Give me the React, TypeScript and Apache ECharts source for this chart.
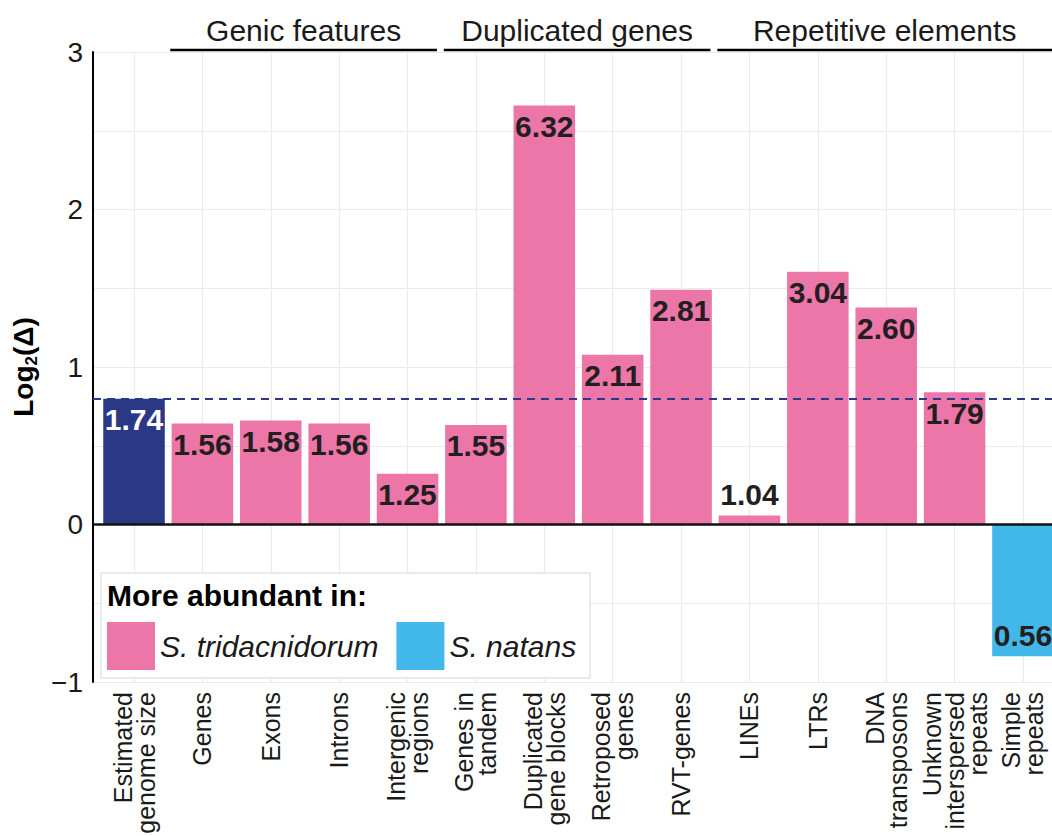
import React, { useEffect, useRef } from "react";
import * as echarts from "echarts";

// Feature categories along the x axis (line breaks as drawn)
const categories = [
  "Estimated\ngenome size",
  "Genes",
  "Exons",
  "Introns",
  "Intergenic\nregions",
  "Genes in\ntandem",
  "Duplicated\ngene blocks",
  "Retroposed\ngenes",
  "RVT-genes",
  "LINEs",
  "LTRs",
  "DNA\ntransposons",
  "Unknown\ninterspersed\nrepeats",
  "Simple\nrepeats",
];

// Fold difference (Δ) between the two genomes, one per category
const ratios = [1.74, 1.56, 1.58, 1.56, 1.25, 1.55, 6.32, 2.11, 2.81, 1.04, 3.04, 2.6, 1.79, 0.56];

// Which species each feature is more abundant in ("genome" is the reference bar)
const abundantIn = [
  "genome",
  "S. tridacnidorum",
  "S. tridacnidorum",
  "S. tridacnidorum",
  "S. tridacnidorum",
  "S. tridacnidorum",
  "S. tridacnidorum",
  "S. tridacnidorum",
  "S. tridacnidorum",
  "S. tridacnidorum",
  "S. tridacnidorum",
  "S. tridacnidorum",
  "S. tridacnidorum",
  "S. natans",
];

// Bracketed headers over the category groups (first/last category index)
const groupNames = ["Genic features", "Duplicated genes", "Repetitive elements"];
const groupFirst = [1, 5, 9];
const groupLast = [4, 8, 13];

// y axis range and tick step
const yTicks = [-1, 0, 1, 2, 3];
const yStep = 1;

const NAVY = "#2a3886";
const PINK = "#ed76a8";
const BLUE = "#41b8e9";
const TEXT = "#1a1a1a";
const GRIDLINE = "#ebebeb";
const FONT = "'Liberation Sans', Arial, Helvetica, sans-serif";

const log2 = (v: number) => Math.log(v) / Math.log(2);
const positions = categories.map((_, i) => i + 1);

function seriesData(name: string) {
  const out: any[] = [];
  categories.forEach((_, i) => {
    if (abundantIn[i] !== name) return;
    const y = log2(ratios[i]);
    let position = "insideTop";
    if (y < 0) position = "insideBottom";
    else if (y < 0.2) position = "top";
    out.push({
      value: [positions[i], y],
      ratio: ratios[i],
      label: {
        position,
        color: name === "genome" ? "#ffffff" : "#231f20",
      },
    });
  });
  return out;
}

export default function App() {
  const ref = useRef<HTMLDivElement>(null);

  useEffect(() => {
    if (!ref.current) return;
    const chart = echarts.init(ref.current, undefined, { renderer: "svg" });

    const xMin = 0.4;
    const xMax = categories.length + 0.6;
    const gridLeft = 93;
    const gridWidth = 971;
    const unit = gridWidth / (xMax - xMin);
    const barWidth = unit * 0.9;

    const barLabel = {
      show: true,
      fontFamily: FONT,
      fontWeight: "bold" as const,
      fontSize: 30,
      distance: 6,
      formatter: (p: any) => p.data.ratio.toFixed(2),
    };

    const makeSeries = (name: string, color: string, extra: any = {}) => ({
      name,
      type: "bar",
      barWidth,
      barGap: "-100%",
      itemStyle: { color },
      label: barLabel,
      data: seriesData(name),
      z: 2,
      ...extra,
    });

    chart.setOption({
      animation: false,
      textStyle: { fontFamily: FONT },
      grid: {
        left: gridLeft,
        top: 52,
        width: gridWidth,
        height: 630,
        containLabel: false,
        outerBoundsMode: "none",
      },
      legend: {
        data: ["S. tridacnidorum", "S. natans"],
        left: 107,
        top: 622,
        padding: 0,
        itemWidth: 48,
        itemHeight: 48,
        itemGap: 18,
        icon: "rect",
        selectedMode: false,
        textStyle: { fontFamily: FONT, fontSize: 30, fontStyle: "italic", color: TEXT },
        z: 6,
      },
      xAxis: {
        type: "value",
        min: xMin,
        max: xMax,
        axisLine: { show: false },
        axisTick: { show: false, customValues: positions },
        axisLabel: {
          customValues: positions,
          rotate: 90,
          margin: 10,
          fontSize: 25,
          lineHeight: 23,
          color: TEXT,
          fontFamily: FONT,
          formatter: (v: number) => categories[Math.round(v) - 1] ?? "",
        },
        splitLine: { show: true, lineStyle: { color: GRIDLINE, width: 1.2 } },
      },
      yAxis: {
        type: "value",
        min: yTicks[0],
        max: yTicks[yTicks.length - 1],
        interval: yStep,
        axisLine: { show: true, lineStyle: { color: "#000", width: 2 } },
        axisTick: { show: false },
        minorTick: { show: false, splitNumber: 2 },
        minorSplitLine: { show: true, lineStyle: { color: GRIDLINE, width: 1.2 } },
        splitLine: { show: true, lineStyle: { color: GRIDLINE, width: 1.2 } },
        axisLabel: {
          fontSize: 28,
          color: TEXT,
          margin: 10,
          fontFamily: FONT,
          formatter: (v: number) => (v < 0 ? "\u2212" + Math.abs(v) : String(v)),
        },
        name: "{b|Log}{s|2}{b|(Δ)}",
        nameLocation: "middle",
        nameGap: 48,
        nameTextStyle: {
          rich: {
            b: { fontSize: 28, fontWeight: "bold", color: "#000", fontFamily: FONT, lineHeight: 34 },
            s: {
              fontSize: 17,
              fontWeight: "bold",
              color: "#000",
              fontFamily: FONT,
              lineHeight: 18,
              verticalAlign: "bottom",
            },
          },
        },
      },
      series: [
        makeSeries("genome", NAVY, {
          markLine: {
            silent: true,
            symbol: "none",
            label: { show: false },
            data: [
              { yAxis: log2(ratios[0]), lineStyle: { type: [8, 6], color: NAVY, width: 2 } },
              { yAxis: 0, lineStyle: { type: "solid", color: "#111", width: 2.5 } },
            ],
          },
        }),
        makeSeries("S. tridacnidorum", PINK),
        makeSeries("S. natans", BLUE),
      ],
    });

    // Group headers and their underline brackets, placed on the x scale
    const px = (v: number) => chart.convertToPixel({ xAxisIndex: 0 }, v) as number;
    const graphics: any[] = [];
    groupNames.forEach((name, g) => {
      const x0 = px(positions[groupFirst[g]] - 0.47);
      const x1 = px(positions[groupLast[g]] + 0.43);
      graphics.push({
        type: "line",
        shape: { x1: x0, y1: 50, x2: x1, y2: 50 },
        style: { stroke: "#000", lineWidth: 2.5 },
        z: 10,
      });
      graphics.push({
        type: "text",
        x: (x0 + Math.min(x1, 1052)) / 2,
        y: 30,
        style: {
          text: name,
          fontSize: 30,
          fontFamily: FONT,
          fill: TEXT,
          align: "center",
          verticalAlign: "middle",
        },
        z: 10,
      });
    });
    // Legend frame and title
    graphics.push({
      type: "rect",
      shape: { x: 101, y: 573, width: 489, height: 105 },
      style: { fill: "#ffffff", stroke: "#e3e3e3", lineWidth: 1.5 },
      z: 3,
    });
    graphics.push({
      type: "text",
      x: 107,
      y: 595,
      style: {
        text: "More abundant in:",
        fontSize: 30,
        fontWeight: "bold",
        fontFamily: FONT,
        fill: "#000",
        align: "left",
        verticalAlign: "middle",
      },
      z: 7,
    });
    chart.setOption({ graphic: graphics });

    return () => chart.dispose();
  }, []);

  return (
    <div
      ref={ref}
      style={{ position: "absolute", left: 0, top: 0, width: 1052, height: 836, background: "#fff" }}
    />
  );
}
